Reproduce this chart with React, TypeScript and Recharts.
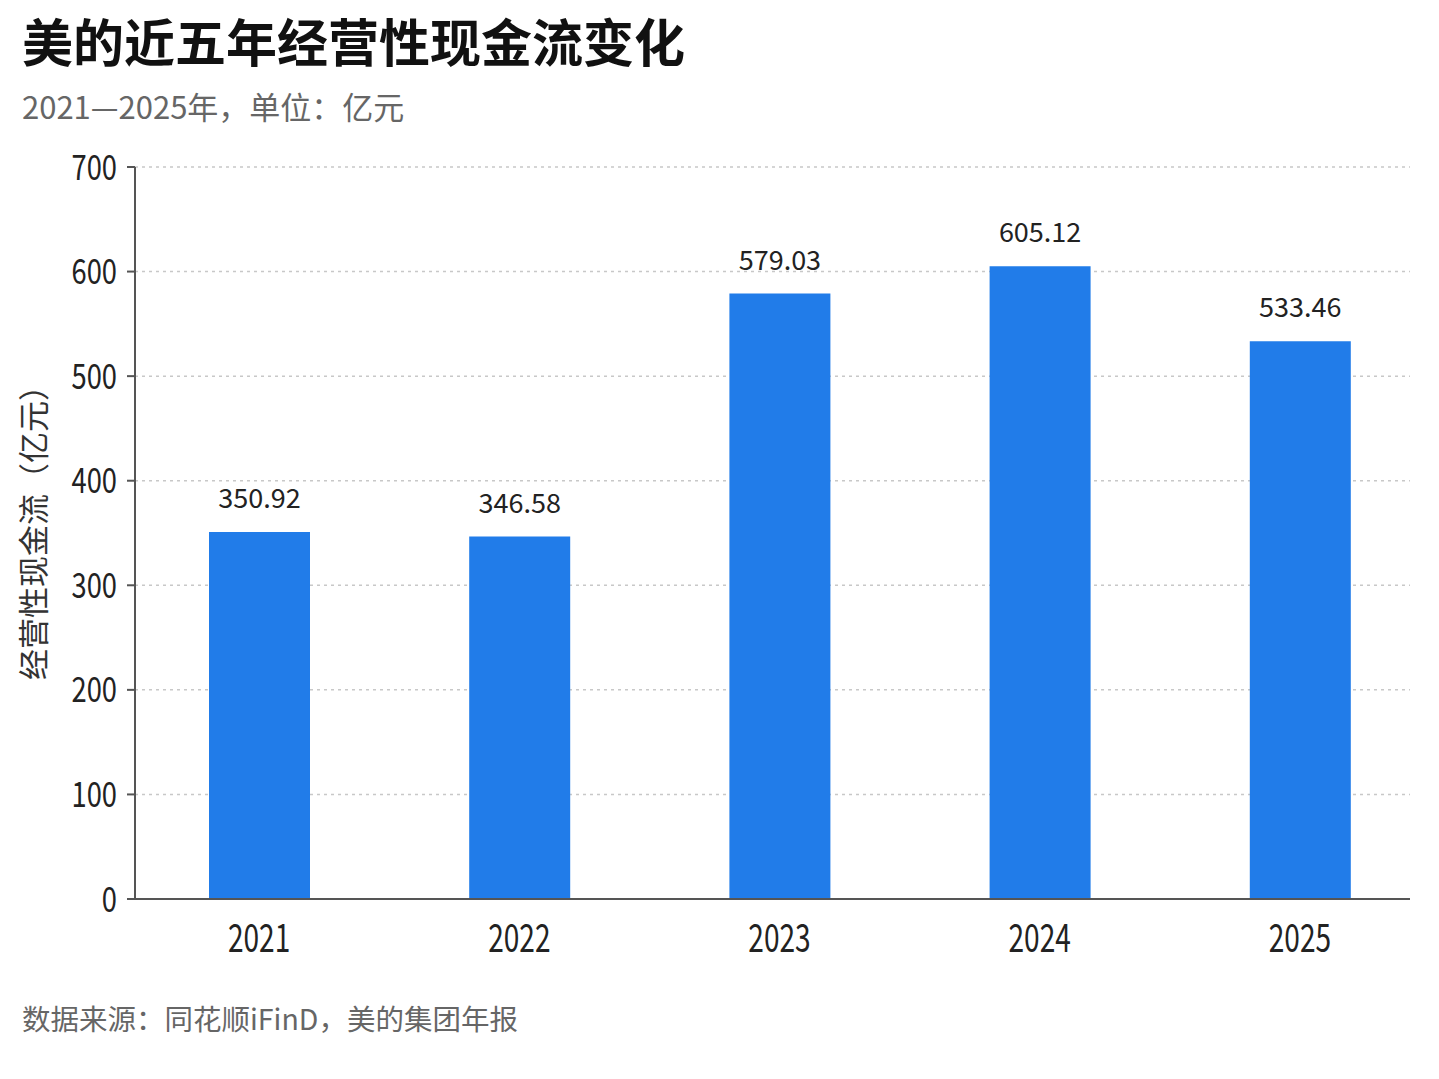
import React from 'react';
import { BarChart, Bar, XAxis, YAxis, CartesianGrid, LabelList } from 'recharts';

const years = ['2021', '2022', '2023', '2024', '2025'];
const cashFlow = [350.92, 346.58, 579.03, 605.12, 533.46];
const yTicks = [0, 100, 200, 300, 400, 500, 600, 700];

const data = years.map((year, i) => ({ year, value: cashFlow[i] }));

const FONT = '"Noto Sans CJK SC", "Noto Sans", sans-serif';

const YTick = (props: any) => {
  const { x, y, payload } = props;
  return (
    <g transform={`translate(${x - 2},${y}) scale(0.78,1)`}>
      <text x={0} y={0} dy={12.5} textAnchor="end" fontSize={35} fill="#222" fontFamily={FONT}>
        {payload.value}
      </text>
    </g>
  );
};

const XTick = (props: any) => {
  const { x, y, payload } = props;
  return (
    <g transform={`translate(${x},${y}) scale(0.72,1)`}>
      <text x={0} y={0} dy={45} textAnchor="middle" fontSize={39} fill="#222" fontFamily={FONT}>
        {payload.value}
      </text>
    </g>
  );
};

const ValueLabel = (props: any) => {
  const { x, y, width, value } = props;
  return (
    <text x={x + width / 2} y={y - 24} textAnchor="middle" fontSize={27} fill="#222" fontFamily={FONT}>
      {Number(value).toFixed(2)}
    </text>
  );
};

export default function App() {
  return (
    <div style={{ position: 'absolute', left: 0, top: 0, width: 1439, height: 1079, background: '#fff', fontFamily: FONT }}>
      <div style={{ position: 'absolute', left: 0, top: 0 }}>
        <BarChart
          width={1439}
          height={1079}
          data={data}
          margin={{ top: 167, right: 29, bottom: 120, left: 0 }}
        >
          <CartesianGrid vertical={false} stroke="#c8c8c8" strokeDasharray="3 4" strokeWidth={1.5} />
          <XAxis
            dataKey="year"
            height={60}
            padding={{ left: -6, right: -20 }}
            tickLine={false}
            axisLine={{ stroke: '#555', strokeWidth: 2 }}
            tick={<XTick />}
            interval={0}
          />
          <YAxis
            width={135}
            domain={[0, 700]}
            ticks={yTicks}
            interval={0}
            tickSize={8}
            tickMargin={8}
            tickLine={{ stroke: '#555', strokeWidth: 2 }}
            axisLine={{ stroke: '#555', strokeWidth: 2 }}
            tick={<YTick />}
          />
          <Bar dataKey="value" fill="#217ce9" barSize={101} isAnimationActive={false}>
            <LabelList dataKey="value" content={<ValueLabel />} />
          </Bar>
        </BarChart>
      </div>
      <div style={{ position: 'absolute', left: 22, top: 15, fontSize: 51, lineHeight: 1, fontWeight: 700, color: '#111', whiteSpace: 'nowrap' }}>
        美的近五年经营性现金流变化
      </div>
      <div style={{ position: 'absolute', left: 22, top: 90, fontSize: 31, lineHeight: 1, color: '#666', whiteSpace: 'nowrap' }}>
        2021—2025年，单位：亿元
      </div>
      <div
        style={{
          position: 'absolute',
          left: 32 - 200,
          top: 525 - 15,
          width: 400,
          height: 30,
          lineHeight: '30px',
          fontSize: 31,
          color: '#333',
          textAlign: 'center',
          transform: 'rotate(-90deg)',
          whiteSpace: 'nowrap',
        }}
      >
        经营性现金流（亿元）
      </div>
      <div style={{ position: 'absolute', left: 22, top: 1004, fontSize: 28.5, lineHeight: 1, color: '#666', whiteSpace: 'nowrap' }}>
        数据来源：同花顺iFinD，美的集团年报
      </div>
    </div>
  );
}
